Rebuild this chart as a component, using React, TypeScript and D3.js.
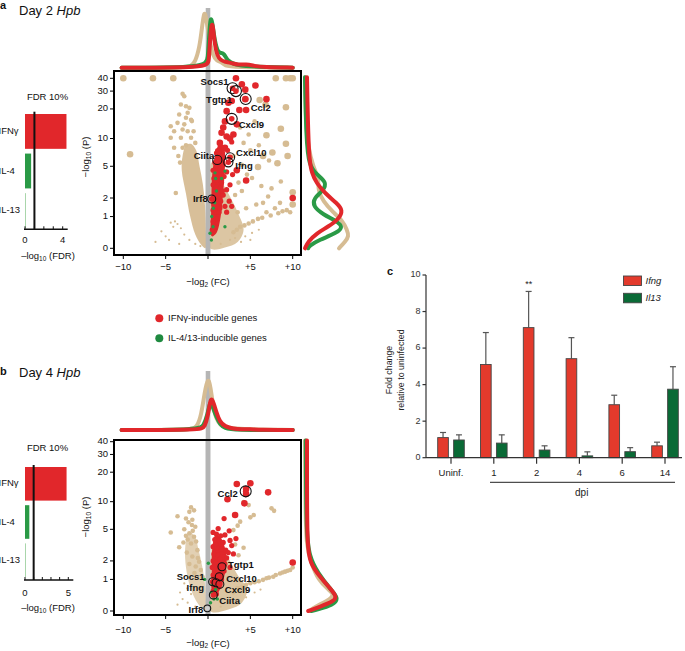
import React from 'react';
import * as d3 from 'd3';

type P = [number, number];

const FONT = 'Liberation Sans, Arial, Helvetica, sans-serif';
const RED = '#e1272b';
const TAN = '#d6bc93';
const GREEN = '#2a9a46';
const GREYBAR = '#b5b5b5';

// ---------- Panel a (Day 2) volcano data: [log2FC, -log10 P] ----------
const aTanLarge: P[] = [[-10,40],[-6.5,40],[-4.1,40],[8.0,40],[9.2,40],[9.7,40],[10,40],[-9.2,6.8],
  [6.1,24.5],[6.8,22],[9.2,20.8],[8.6,12.6],[6.9,10.8],[9.2,8.8],[7.6,7.1],[9.4,6.5],[8.2,5.4],[5.9,4.9],[6.5,6.5],[10,2.4],[10,1.6]];
const aTanMid: P[] = [[-3.0,28.2],[-2.8,26.7],[-3.2,22.1],[-2.6,21.3],[-2.2,20.5],[-2.4,18.3],[-3.4,17.6],[-2.6,16.3],[-2.0,15.6],[-4.4,13.4],
  [-1.9,15.1],[-3.0,12.4],[-4.0,11.9],[-2.4,11.9],[-1.7,11.9],[-4.4,10.2],[-3.2,10.2],[-2.0,10.2],[-4.0,8.0],[-3.0,8.0],[-2.6,8.5],
  [-3.8,2.35],[-3.5,6.5],[-3.3,5.5],[-2.8,14],[-3.6,14.5],[-1.5,9],
  [4.6,4.0],[5.2,3.65],[6.3,2.9],[7.5,2.7],[7.1,2.1],[6.5,1.7],[5.7,1.6],[8.5,1.7],[7.9,1.4],[6.9,1.2],[9.7,1.2],[9.3,1.3],[8.8,1.25],
  [8.3,1.15],[7.4,1.05],[6.4,0.95],[5.9,0.9],[5.3,0.8],[4.8,0.72],[4.3,0.65],[3.8,0.6],[3.4,0.5],[3.0,0.42],[4.0,2.5],[3.6,3.2],[3.2,2.2],
  [3.0,6.5],[4.0,5.2],[5.0,7.5],[4.2,9],[3.8,13],[5.5,15],[4.8,11],[6.0,8.5],[7.2,5.8],[8.6,3.3],[3.5,1.2],[4.5,1.4]];
const aTanSmall: P[] = [[-4.4,0.75],[-3.9,0.8],[-4.1,0.6],[-3.6,0.7],[-3.2,0.55],[-5.5,0.45],[-5.0,0.3],[-4.6,0.2],[-2.8,0.35],[-6.2,0.15],
  [2.6,0.2],[3.2,0.25],[4.4,0.3],[5.2,0.4],[6.0,0.5],[3.9,0.15],[5.0,0.2],[-1.5,0.1],[-2.2,0.2],[-3.4,0.1],[1.5,0.1],[-0.9,0.05]];
const aRedLarge: P[] = [[3.3,40],[4.0,35],[5.6,34],[4.4,31],[4.4,25],[6.9,25],[2.4,23],[2.8,24],[3.7,19.5],[4.5,19.5],[2.2,19],[2.0,15],
  [1.6,11.5],[2.2,10.5],[3.0,11],[1.4,9],[2.0,8],[1.2,7.3],[4.5,3.4],[10,2.0],[3.4,4.5],[2.6,10],[3.4,14],[1.8,13]];
const aRedMid: P[] = [[1.8,5.2],[1.4,4.6],[0.6,4.5],[0.9,4.2],[1.3,4.0],[0.7,3.6],[1.1,3.4],[1.6,3.2],[0.6,3.0],[1.0,2.8],[1.4,2.7],[0.8,2.4],
  [1.2,2.3],[1.8,2.2],[0.6,2.0],[1.0,1.9],[1.5,1.8],[0.7,1.6],[1.1,1.5],[2.0,1.5],[0.6,1.3],[0.9,1.2],[1.3,1.2],[0.7,1.0],[1.0,0.9],[0.6,0.8],
  [0.8,0.6],[0.5,0.5],[2.9,4.0],[2.6,3.0],[2.2,2.6],[2.5,1.8],[2.8,1.5],[2.2,1.2],[1.7,6.5],[1.0,7.0],[2.3,7.5],[1.5,8.2],[2.8,9.2],[1.9,3.8],
  [2.2,4.3],[0.8,5.5],[1.4,1.4],[1.7,2.5]];
const aRedCloud: P[] = [[0.45,0.3],[0.4,1.5],[0.5,4],[0.9,7],[1.4,9],[1.9,8],[2.0,5],[1.8,2.5],[1.5,1.0],[1.0,0.4]];
const aGreen: P[] = [[0.83,4.2],[2.0,4.4],[0.9,3.6],[1.0,2.5],[0.63,1.4],[0.44,1.0],[0.6,0.6],[0.24,0.39],[2.0,0.6],[0.4,0.2],[1.6,3.6],[0.8,1.7]];
const aCloudLeft: P[] = [[-0.3,0],[-0.8,0.08],[-1.5,0.35],[-2.1,1.0],[-2.6,2.3],[-3.1,4.5],[-3.0,6.5],[-2.6,8.5],[-2.0,8.8],[-1.4,7.5],[-1.0,5],[-0.6,3],[-0.35,1.5],[-0.25,0.5]];
const aCloudRight: P[] = [[0.25,0],[0.25,3],[0.4,5.5],[0.8,5.0],[1.5,3.5],[2.5,2.2],[3.5,1.2],[4.2,0.5],[3.5,0.15],[2.0,0.02]];
const aGenes = [
  { name: 'Socs1', x: 2.9, v: 32 }, { name: 'Tgtp1', x: 3.3, v: 30 }, { name: 'Ccl2', x: 4.45, v: 25.1 },
  { name: 'Cxcl9', x: 2.8, v: 15.9 }, { name: 'Cxcl10', x: 2.6, v: 6.3 }, { name: 'Ifng', x: 2.4, v: 5.55 },
  { name: 'Ciita', x: 1.1, v: 5.9 }, { name: 'Irf8', x: 0.44, v: 1.94 },
];
// marginal densities (top: [log2FC, density], right: [-log10 P, density])
const aTopTan: P[] = [[-10.2,0],[-3,0],[-2,0.02],[-1.5,0.1],[-1.0,0.35],[-0.7,0.7],[-0.44,1.0],[-0.2,0.85],[0.2,0.45],[0.6,0.2],[1.0,0.12],[1.6,0.1],[2.0,0.03],[3,0.01],[10,0]];
const aTopGreen: P[] = [[-10.2,0],[-0.3,0],[0,0.15],[0.15,0.6],[0.3,0.88],[0.5,0.8],[0.8,0.45],[1.2,0.25],[1.6,0.26],[1.9,0.24],[2.3,0.12],[3,0.06],[4.5,0.02],[10,0]];
const aTopRed: P[] = [[-10.2,0],[-0.1,0],[0.1,0.1],[0.25,0.5],[0.44,0.79],[0.6,0.7],[0.8,0.4],[1.1,0.2],[1.5,0.13],[2,0.1],[2.8,0.08],[3.5,0.05],[4.5,0.06],[5.5,0.03],[6.5,0.01],[10,0]];
const aRightTan: P[] = [[41,0],[15,0.02],[8,0.08],[5,0.2],[3.5,0.35],[2.6,0.32],[1.8,0.45],[1.2,0.7],[0.8,0.95],[0.5,1.05],[0.3,1.1],[0.15,1.0],[0,0.85]];
const aRightGreen: P[] = [[41,0],[10,0.03],[5,0.1],[4,0.3],[3.2,0.55],[2.5,0.45],[2,0.22],[1.5,0.2],[1.1,0.45],[0.8,0.8],[0.6,0.95],[0.4,0.8],[0.2,0.35],[0.05,0.1],[0,0.08]];
const aRightRed: P[] = [[41,0.05],[24.6,0.06],[11.3,0.08],[5.9,0.11],[4.15,0.17],[3.14,0.29],[2.33,0.5],[1.67,0.8],[1.3,0.95],[0.9,0.85],[0.6,0.58],[0.39,0.29],[0.16,0.08],[0,0]];

// ---------- Panel b (Day 4) ----------
const bTanLarge: P[] = [];
const bTanMid: P[] = [[-2.0,8.7],[-1.65,8.1],[-2.2,7.8],[-3.6,7.0],[-2.6,6.6],[-1.85,6.4],[-1.5,5.35],[-2.8,5.0],[-4.4,4.6],[-2.2,4.5],[-1.65,4.1],
  [-3.4,3.05],[-2.0,3.4],[-1.25,2.8],[-1.85,2.3],[-1.05,1.95],[-1.45,1.65],[-0.85,1.46],[-0.65,1.12],[-2.4,3.8],[-1.4,3.6],[-2.9,3.5],[-2.5,2.6],
  [-1.2,2.2],[-1.6,1.3],[-2.2,1.8],[-2.3,6.0],[-1.9,5.6],[-2.6,4.2],[-1.8,4.8],
  [4.8,9.2],[7.5,8.5],[7.8,8.0],[5.4,7.2],[5.0,6.8],[3.8,6.1],[3.0,4.9],[2.6,3.7],[3.5,5.5],[4.2,3.0],[3.6,2.4],[3.2,3.3],[4.2,9.9],
  [6.9,1.05],[7.7,1.12],[8.5,1.28],[9.1,1.37],[9.7,1.46],[10,1.6],[8.0,1.2],[7.2,1.08],[6.5,0.98],[6.0,0.92],[5.5,0.88],[5.0,0.84],
  [4.5,0.78],[4.0,0.7],[3.5,0.65],[3.0,0.5],[9.4,1.42],[8.8,1.33]];
const bTanSmall: P[] = [[-2.8,0.83],[-2.45,0.64],[-3.3,0.5],[-2.0,0.45],[-3.0,0.3],[2.5,0.2],[3.5,0.3],[4.5,0.35],[5.5,0.5],[6.2,0.6],
  [-1.5,0.1],[-2.4,0.2],[1.5,0.1],[-3.6,0.15]];
const bRedLarge: P[] = [[3.4,15.2],[5.0,15.5],[4.5,12.0],[7.1,12.5],[2.3,10.6],[4.3,9.6],[3.2,7.2],[10,1.9],[4.5,13.5]];
const bRedMid: P[] = [[1.9,6.6],[1.2,5.1],[2.0,4.3],[2.5,4.8],[0.6,4.6],[1.0,4.4],[1.5,4.2],[0.8,3.8],[1.3,3.6],[1.8,3.5],[2.6,3.7],[0.6,3.1],
  [1.1,3.0],[1.6,2.9],[2.1,2.8],[0.7,2.5],[1.2,2.4],[1.7,2.3],[2.2,2.2],[0.6,2.0],[1.0,1.9],[1.4,1.8],[2.0,1.8],[0.8,1.5],[1.2,1.4],[1.9,1.4],
  [0.6,1.2],[1.0,1.1],[1.6,1.0],[0.8,0.8],[1.3,0.7],[0.6,0.55],[1.0,0.45],[2.4,2.6],[2.8,3.2],[3.0,2.5],[2.6,1.6],[0.9,3.3],[1.4,2.1],[0.5,1.6],[3.3,3.9]];
const bRedCloud: P[] = [[0.5,0.5],[0.45,1.5],[0.55,3.2],[0.9,4.3],[1.5,4.0],[2.0,3.0],[2.2,2.0],[1.9,1.1],[1.4,0.6],[0.9,0.4]];
const bGreen: P[] = [[0.5,0.8],[0.4,0.5],[0.7,0.3],[0.3,0.2],[0.04,1.85],[1.1,0.3],[-0.4,1.0],[0.9,0.6]];
const bCloudLeft: P[] = [[-0.3,0],[-1.0,0.12],[-1.8,0.45],[-2.4,1.1],[-2.7,2.2],[-2.6,3.6],[-2.2,4.6],[-1.6,4.2],[-1.1,2.8],[-0.7,1.7],[-0.35,0.8],[-0.25,0.3]];
const bCloudRight: P[] = [[0.25,0],[0.3,2],[0.7,3.6],[1.5,3.2],[2.5,2.1],[3.5,1.2],[4.6,0.6],[4.0,0.2],[2.5,0.04]];
const bGenes = [
  { name: 'Ccl2', x: 4.45, v: 12.8 }, { name: 'Tgtp1', x: 1.65, v: 1.64 }, { name: 'Cxcl10', x: 1.33, v: 1.12 },
  { name: 'Socs1', x: 0.55, v: 0.9 }, { name: 'Ifng', x: 0.95, v: 0.86 }, { name: 'Cxcl9', x: 1.4, v: 0.8 },
  { name: 'Ciita', x: 0.63, v: 0.42 }, { name: 'Irf8', x: -0.08, v: 0.06 },
];
const bTopTan: P[] = [[-10.2,0],[-2,0],[-1.3,0.05],[-0.8,0.25],[-0.4,0.65],[0,0.92],[0.3,0.75],[0.6,0.4],[1.0,0.18],[1.5,0.08],[2.2,0.02],[10,0]];
const bTopGreen: P[] = [[-10.2,0],[-1,0],[-0.5,0.08],[-0.1,0.25],[0.2,0.45],[0.35,0.47],[0.6,0.38],[1.0,0.22],[1.4,0.1],[2,0.03],[3,0],[10,0]];
const bTopRed: P[] = [[-10.2,0],[-0.8,0],[-0.4,0.05],[0,0.25],[0.25,0.5],[0.45,0.55],[0.7,0.45],[1.0,0.3],[1.4,0.14],[2,0.06],[3,0.02],[4,0.01],[5,0.015],[6,0],[10,0]];
const bRightTan: P[] = [[41,0],[10,0.01],[3.1,0.03],[1.85,0.16],[0.97,0.33],[0.58,0.6],[0.45,0.72],[0.3,0.65],[0.12,0.3],[0,0.1]];
const bRightGreen: P[] = [[41,0.02],[5,0.03],[2.3,0.1],[1.28,0.33],[0.64,0.62],[0.32,0.85],[0.14,0.7],[0.03,0.3],[0,0.16]];
const bRightRed: P[] = [[41,0.05],[10,0.05],[3.4,0.06],[1.85,0.12],[1.12,0.375],[0.64,0.63],[0.37,0.8],[0.23,0.71],[0.1,0.375],[0,0.08]];

// ---------- FDR bars ----------
const fdrCats = ['IFN\u03b3', 'IL-4', 'IL-13'];
const fdrA = [4.4, 0.65, 0.06];
const fdrB = [4.8, 0.5, 0.06];

// ---------- Panel c ----------
const cGroups = ['Uninf.', '1', '2', '4', '6', '14'];
const cSeries = ['Ifng', 'Il13'];
const cIfng = [1.1, 5.1, 7.12, 5.42, 2.9, 0.65];
const cIfngErr = [1.38, 6.85, 9.1, 6.57, 3.42, 0.85];
const cIl13 = [0.97, 0.8, 0.42, 0.1, 0.33, 3.75];
const cIl13Err = [1.25, 1.25, 0.65, 0.32, 0.55, 4.98];
const cYTicks = [0, 2, 4, 6, 8, 10];

const volcanoXTicks = [-10, -5, 0, 5, 10];
const volcanoYTicks = [0, 1, 2, 5, 10, 20, 30, 40];

const labelStyleA: Record<string, { a: 'start' | 'end'; dx: number; dy: number }> = {
  Socs1: { a: 'end', dx: -4, dy: -6 }, Tgtp1: { a: 'end', dx: -4, dy: 9 }, Ccl2: { a: 'start', dx: 5, dy: 10 },
  Cxcl9: { a: 'start', dx: 7, dy: 7 }, Cxcl10: { a: 'start', dx: 6, dy: -4 }, Ifng: { a: 'start', dx: 7, dy: 4 },
  Ciita: { a: 'end', dx: -3, dy: -3 }, Irf8: { a: 'end', dx: -4, dy: 1 },
};
const labelStyleB: Record<string, { a: 'start' | 'end'; dx: number; dy: number }> = {
  Ccl2: { a: 'end', dx: -8, dy: 3 }, Tgtp1: { a: 'start', dx: 6, dy: -1 }, Cxcl10: { a: 'start', dx: 7, dy: 3 },
  Socs1: { a: 'end', dx: -8, dy: -4.5 }, Ifng: { a: 'end', dx: -12, dy: 6 }, Cxcl9: { a: 'start', dx: 5, dy: 6 },
  Ciita: { a: 'start', dx: 6, dy: 6 }, Irf8: { a: 'end', dx: -4, dy: 2 },
};

const fmtX = (d: number) => (d === 0 ? '' : d > 0 ? '+' + d : '\u2212' + Math.abs(d));

function Volcano(props: any) {
  const p = props;
  const x = d3.scaleLinear().domain([-10, 10]).range([123.3, 292.7]);
  const y = d3.scaleSymlog().constant(1).domain([0, 40]).range([p.y0, p.y40]);
  const poly = d3.line<P>().x(d => x(d[0])).y(d => y(d[1])).curve(d3.curveCatmullRomClosed.alpha(0.5));
  const top = d3.line<P>().x(d => x(d[0])).y(d => p.margBase - d[1] * 58).curve(d3.curveBasis);
  const right = d3.line<P>().x(d => 305 + d[1] * 40).y(d => y(d[0])).curve(d3.curveBasis);
  const dots = (arr: P[], r: number, fill: string, key: string) =>
    arr.map((d, i) => <circle key={key + i} cx={x(d[0])} cy={y(d[1])} r={r} fill={fill} />);
  const boxL = 114, boxR = 301;
  return (
    <g>
      <rect x={x(-0.27)} width={x(0.27) - x(-0.27)} y={p.greyTop} height={p.boxBottom - p.greyTop} fill={GREYBAR} />
      <path d={top(p.topTan)!} fill="none" stroke={TAN} strokeWidth={4} strokeLinecap="round" />
      <path d={top(p.topGreen)!} fill="none" stroke={GREEN} strokeWidth={4} strokeLinecap="round" />
      <path d={top(p.topRed)!} fill="none" stroke={RED} strokeWidth={4} strokeLinecap="round" />
      <path d={right(p.rightTan)!} fill="none" stroke={TAN} strokeWidth={4} strokeLinecap="round" />
      <path d={right(p.rightGreen)!} fill="none" stroke={GREEN} strokeWidth={4} strokeLinecap="round" />
      <path d={right(p.rightRed)!} fill="none" stroke={RED} strokeWidth={4} strokeLinecap="round" />
      <path d={poly(p.cloudLeft)!} fill={TAN} opacity={p.leftOpacity} />
      <path d={poly(p.cloudRight)!} fill={TAN} opacity={0.85} />
      <rect x={x(-0.27)} width={x(0.27) - x(-0.27)} y={p.boxTop} height={p.boxBottom - p.boxTop} fill={GREYBAR} />
      {dots(p.tanSmall, 1.1, TAN, 'ts')}
      {dots(p.tanMid, 2.3, TAN, 'tm')}
      {dots(p.tanLarge, 3.3, TAN, 'tl')}
      <path d={poly(p.redCloud)!} fill={RED} />
      {dots(p.redMid, 2.6, RED, 'rm')}
      {dots(p.redLarge, 3.3, RED, 'rl')}
      {dots(p.green, 1.7, GREEN, 'g')}
      {p.genes.map((g: any) => {
        const cx = x(g.x), cy = y(g.v);
        const rr = g.v > 10 ? 5.5 : g.v > 3 ? 4.6 : g.v > 0.3 ? 4 : 3.4;
        const st = p.labelStyle[g.name];
        const isGrey = g.name === 'Irf8' && p.irf8Grey;
        return (
          <g key={g.name}>
            <circle cx={cx} cy={cy} r={isGrey ? 2.2 : 2.8} fill={isGrey ? '#d0d0d0' : RED} />
            <circle cx={cx} cy={cy} r={rr} fill="none" stroke="#111" strokeWidth={1.1} />
            <text x={cx + st.dx} y={cy + st.dy} textAnchor={st.a} dominantBaseline="middle"
              fontSize={9.5} fontWeight="bold" fill="#111">{g.name}</text>
          </g>
        );
      })}
      <rect x={boxL} y={p.boxTop} width={boxR - boxL} height={p.boxBottom - p.boxTop} fill="none" stroke="#000" strokeWidth={2} />
      {volcanoYTicks.map(t => (
        <g key={'yt' + t}>
          <line x1={110} x2={boxL} y1={y(t)} y2={y(t)} stroke="#000" strokeWidth={1} />
          <text x={108} y={y(t)} textAnchor="end" dominantBaseline="middle" fontSize={9.5} fill="#111">{t}</text>
        </g>
      ))}
      {volcanoXTicks.map(t => (
        <g key={'xt' + t}>
          <line x1={x(t)} x2={x(t)} y1={p.boxBottom} y2={p.boxBottom + 4} stroke="#000" strokeWidth={1} />
          <text x={x(t)} y={p.xTickY} textAnchor="middle" dominantBaseline="middle" fontSize={9.5} fill="#111">{fmtX(t)}</text>
        </g>
      ))}
      <text x={208} y={p.xTitleY} textAnchor="middle" dominantBaseline="middle" fontSize={9.5} fill="#111">
        {'\u2212log'}<tspan fontSize={6.5} dy={2.5}>2</tspan><tspan dy={-2.5}>{' (FC)'}</tspan>
      </text>
      <text transform={`translate(86,${p.yTitleY}) rotate(-90)`} textAnchor="middle" dominantBaseline="middle" fontSize={9.5} fill="#111">
        {'\u2212log'}<tspan fontSize={6.5} dy={2.5}>10</tspan><tspan dy={-2.5}>{' (P)'}</tspan>
      </text>
    </g>
  );
}

function FdrBars(props: any) {
  const p = props;
  const x = d3.scaleLinear().domain([0, p.max]).range([25, p.xMax]);
  const band = d3.scaleBand<string>().domain(fdrCats).range(p.bandRange).paddingInner(0.12).paddingOuter(0);
  const colors = [RED, GREEN, '#a9d6ab'];
  return (
    <g>
      <text x={47.5} y={p.titleY} textAnchor="middle" dominantBaseline="middle" fontSize={9.5} fill="#111">FDR 10%</text>
      {fdrCats.map((c, i) => (
        <g key={c}>
          <rect x={x(0)} y={band(c)!} width={Math.max(1, x(p.values[i]) - x(0))} height={band.bandwidth()} fill={colors[i]} />
          <text x={-1.5} y={band(c)! + band.bandwidth() / 2} dominantBaseline="middle" fontSize={9.5} fill="#111">{c}</text>
        </g>
      ))}
      <line x1={x(1)} x2={x(1)} y1={p.lineTop} y2={p.axisY} stroke="#111" strokeWidth={2} />
      <line x1={x(0) - 1} x2={x(p.max) + 5} y1={p.axisY} y2={p.axisY} stroke="#111" strokeWidth={1.5} />
      {d3.range(0, p.max + 1).map(t => (
        <line key={t} x1={x(t)} x2={x(t)} y1={p.axisY} y2={p.axisY - 3} stroke="#111" strokeWidth={1} />
      ))}
      {[0, p.max].map(t => (
        <text key={'l' + t} x={x(t)} y={p.tickY} textAnchor="middle" dominantBaseline="middle" fontSize={9.5} fill="#111">{t}</text>
      ))}
      <text x={48} y={p.axisTitleY} textAnchor="middle" dominantBaseline="middle" fontSize={9.5} fill="#111">
        {'\u2013log'}<tspan fontSize={6.5} dy={2.5}>10</tspan><tspan dy={-2.5}>{' (FDR)'}</tspan>
      </text>
    </g>
  );
}

function PanelC() {
  const x0 = d3.scaleBand<string>().domain(cGroups).range([429.6, 686.4]);
  const x1 = d3.scaleBand<string>().domain(cSeries).range([-13.3, 13.3]).paddingInner(0.33).paddingOuter(0);
  const y = d3.scaleLinear().domain([0, 10]).range([457.7, 275]);
  const series = [
    { key: 'Ifng', vals: cIfng, errs: cIfngErr, color: '#e33a2c' },
    { key: 'Il13', vals: cIl13, errs: cIl13Err, color: '#0a6a36' },
  ];
  const center = (g: string) => x0(g)! + x0.bandwidth() / 2;
  return (
    <g fontFamily={FONT}>
      <text x={387} y={275} fontSize={11} fontWeight="bold" fill="#111">c</text>
      {series.map(s => cGroups.map((g, i) => {
        const bx = center(g) + x1(s.key)!;
        const cx = bx + x1.bandwidth() / 2;
        return (
          <g key={s.key + g}>
            <line x1={cx} x2={cx} y1={y(s.vals[i])} y2={y(s.errs[i])} stroke="#555" strokeWidth={1.2} />
            <line x1={cx - 3} x2={cx + 3} y1={y(s.errs[i])} y2={y(s.errs[i])} stroke="#555" strokeWidth={1.2} />
            <rect x={bx} y={y(s.vals[i])} width={x1.bandwidth()} height={y(0) - y(s.vals[i])} fill={s.color} stroke="#444" strokeWidth={0.9} />
          </g>
        );
      }))}
      <line x1={426} x2={426} y1={y(10)} y2={y(0)} stroke="#333" strokeWidth={1.2} />
      {cYTicks.map(t => (
        <g key={t}>
          <line x1={422.5} x2={426} y1={y(t)} y2={y(t)} stroke="#333" strokeWidth={1.2} />
          <text x={420.5} y={y(t)} textAnchor="end" dominantBaseline="middle" fontSize={9} fill="#333">{t}</text>
        </g>
      ))}
      <line x1={426} x2={682} y1={y(0)} y2={y(0)} stroke="#333" strokeWidth={1.2} />
      {cGroups.map(g => (
        <g key={g}>
          <line x1={center(g)} x2={center(g)} y1={y(0)} y2={y(0) + 6} stroke="#333" strokeWidth={1.2} />
          <text x={center(g)} y={473} textAnchor="middle" dominantBaseline="middle" fontSize={9.5} fill="#222">{g}</text>
        </g>
      ))}
      <line x1={490} x2={675} y1={482.3} y2={482.3} stroke="#222" strokeWidth={1} />
      <text x={581.7} y={493} textAnchor="middle" dominantBaseline="middle" fontSize={10} fill="#222">dpi</text>
      <text x={center('2') + x1('Ifng')! + x1.bandwidth() / 2} y={285} textAnchor="middle" dominantBaseline="middle" fontSize={9} fill="#222">**</text>
      <text transform="translate(390,370) rotate(-90)" textAnchor="middle" dominantBaseline="middle" fontSize={8.8} fill="#222">Fold change</text>
      <text transform="translate(401.5,370) rotate(-90)" textAnchor="middle" dominantBaseline="middle" fontSize={8.8} fill="#222">relative to uninfected</text>
      {series.map((s, i) => (
        <g key={'lg' + s.key}>
          <rect x={623.5} y={276 + i * 17.3} width={18} height={9.5} fill={s.color} stroke="#444" strokeWidth={0.9} />
          <text x={645.5} y={281 + i * 17.3} dominantBaseline="middle" fontSize={9.5} fontStyle="italic" fill="#222">{s.key}</text>
        </g>
      ))}
    </g>
  );
}

export default function App() {
  return (
    <div style={{ position: 'absolute', left: 0, top: 0, width: 685, height: 651, background: '#fff' }}>
      <svg width={685} height={651} fontFamily={FONT} style={{ display: 'block' }}>
        <text x={0} y={9} fontSize={11} fontWeight="bold" fill="#111">a</text>
        <text x={19} y={14.5} fontSize={13} fill="#111">Day 2 <tspan fontStyle="italic">Hpb</tspan></text>
        <text x={0} y={375} fontSize={11} fontWeight="bold" fill="#111">b</text>
        <text x={19} y={376.5} fontSize={13} fill="#111">Day 4 <tspan fontStyle="italic">Hpb</tspan></text>

        <FdrBars values={fdrA} max={4} xMax={62.7} bandRange={[114, 228]} titleY={97.7} lineTop={111.7} axisY={229.3} tickY={240.7} axisTitleY={256} />
        <FdrBars values={fdrB} max={5} xMax={68.3} bandRange={[467, 577]} titleY={448.3} lineTop={465} axisY={580} tickY={593.3} axisTitleY={608.3} />

        <Volcano y0={248.3} y40={78.3} boxTop={71} boxBottom={255} margBase={67.7} greyTop={8}
          xTickY={267} xTitleY={282} yTitleY={157} leftOpacity={0.95}
          tanLarge={aTanLarge} tanMid={aTanMid} tanSmall={aTanSmall} redLarge={aRedLarge} redMid={aRedMid} redCloud={aRedCloud} green={aGreen}
          cloudLeft={aCloudLeft} cloudRight={aCloudRight} genes={aGenes} labelStyle={labelStyleA}
          topTan={aTopTan} topGreen={aTopGreen} topRed={aTopRed} rightTan={aRightTan} rightGreen={aRightGreen} rightRed={aRightRed} irf8Grey={false} />
        <Volcano y0={611} y40={441.7} boxTop={440} boxBottom={615} margBase={430} greyTop={371}
          xTickY={630} xTitleY={643.5} yTitleY={517} leftOpacity={0.7}
          tanLarge={bTanLarge} tanMid={bTanMid} tanSmall={bTanSmall} redLarge={bRedLarge} redMid={bRedMid} redCloud={bRedCloud} green={bGreen}
          cloudLeft={bCloudLeft} cloudRight={bCloudRight} genes={bGenes} labelStyle={labelStyleB}
          topTan={bTopTan} topGreen={bTopGreen} topRed={bTopRed} rightTan={bRightTan} rightGreen={bRightGreen} rightRed={bRightRed} irf8Grey={true} />

        <circle cx={159.3} cy={318.3} r={4} fill={RED} />
        <text x={168} y={318.5} dominantBaseline="middle" fontSize={9.5} fill="#111">{'IFN\u03b3-inducible genes'}</text>
        <circle cx={159.3} cy={338.3} r={4} fill="#1f8a40" />
        <text x={168} y={338.5} dominantBaseline="middle" fontSize={9.5} fill="#111">IL-4/13-inducible genes</text>

        <PanelC />
      </svg>
    </div>
  );
}
